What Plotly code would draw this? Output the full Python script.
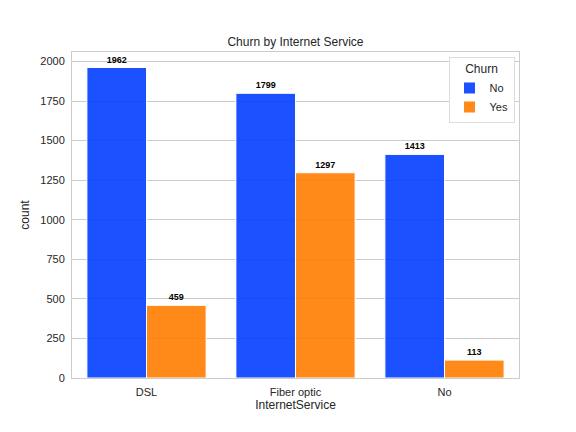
import plotly.graph_objects as go

categories = ['DSL', 'Fiber optic', 'No']
churn_no = [1962, 1799, 1413]
churn_yes = [459, 1297, 113]

fig = go.Figure()
fig.add_trace(go.Bar(x=categories, y=churn_no, name='No', marker_color='rgba(2,62,255,0.9)',
                     marker_line=dict(color='white', width=1),
                     text=churn_no, textposition='outside', cliponaxis=False,
                     textfont=dict(size=9, color='black', weight='bold')))
fig.add_trace(go.Bar(x=categories, y=churn_yes, name='Yes', marker_color='rgba(255,124,0,0.9)',
                     marker_line=dict(color='white', width=1),
                     text=churn_yes, textposition='outside', cliponaxis=False,
                     textfont=dict(size=9, color='black', weight='bold')))

fig.update_layout(
    width=576, height=432,
    margin=dict(l=64, r=65, t=44, b=62, autoexpand=False),
    paper_bgcolor='white', plot_bgcolor='white',
    font=dict(family='Liberation Sans, Arial', size=11, color='#262626'),
    title=dict(text='Churn by Internet Service', x=0.5, xanchor='center', xref='paper',
               y=1 - 34 / 432, yref='container', yanchor='middle', font=dict(size=12)),
    barmode='group', bargap=0.2, bargroupgap=0,
    legend=dict(title=dict(text='Churn', side='top center', font=dict(size=12)),
                x=0.99, y=0.985, xanchor='right', yanchor='top', itemwidth=30,
                bgcolor='white', bordercolor='#dddddd', borderwidth=1, font=dict(size=11)),
    showlegend=True,
)
fig.update_xaxes(title=dict(text='InternetService', standoff=2, font=dict(size=12)), range=[-0.5, 2.5],
                 ticklabelstandoff=4,
                 showgrid=False, showline=True, linecolor='#cccccc', linewidth=1, mirror=True, ticks='')
fig.update_yaxes(title=dict(text='count', standoff=8, font=dict(size=12)), range=[0, 2060], dtick=250,
                 ticklabelstandoff=4,
                 showgrid=True, gridcolor='#cccccc', gridwidth=1, zeroline=False,
                 showline=True, linecolor='#cccccc', linewidth=1, mirror=True, ticks='')

fig.write_html('out.html')
